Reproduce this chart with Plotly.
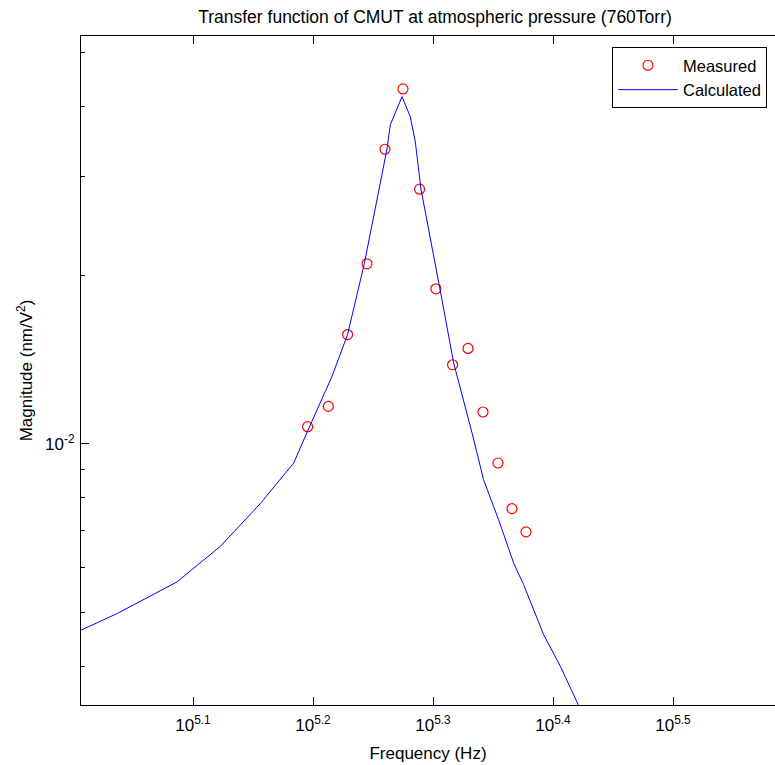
import plotly.graph_objects as go

# Measured data (Hz, nm/V^2)
meas_freq = [156860, 163220, 169360, 175790, 181970, 188360, 194450,
             200650, 207170, 213390, 219610, 226020, 232180, 238500]
meas_mag = [0.010724, 0.011658, 0.015670, 0.020966, 0.033592, 0.043047, 0.028497,
            0.018913, 0.013837, 0.014797, 0.011393, 0.009237, 0.007656, 0.006956]

# Calculated curve (Hz, nm/V^2)
calc_freq = [101550, 108820, 122090, 132670, 143230, 152730, 156680, 164370,
             169360, 174880, 182670, 183830, 188000, 191020, 192860, 194980,
             203000, 207570, 215020, 219860, 226280, 232890, 237400, 246700,
             254740, 263840, 272440]
calc_mag = [0.004642, 0.004970, 0.005662, 0.006555, 0.007813, 0.009237, 0.010476,
            0.013189, 0.015670, 0.020966, 0.033630, 0.037126, 0.041704, 0.038414,
            0.034651, 0.028497, 0.018076, 0.013952, 0.010463, 0.008623, 0.007316,
            0.006122, 0.005600, 0.004559, 0.004003, 0.003406, 0.002937]

x_tick_exp = [5.1, 5.2, 5.3, 5.4, 5.5]
y_tick_exp = [-2]
y_minor = [0.004, 0.005, 0.006, 0.007, 0.008, 0.009, 0.02, 0.03, 0.04, 0.05]

FONT = "Liberation Sans, Arial, sans-serif"

fig = go.Figure()
fig.add_trace(go.Scatter(
    x=meas_freq, y=meas_mag, mode="markers", name="Measured",
    marker=dict(symbol="circle-open", size=10, color="#ff0000",
                line=dict(width=1.2, color="#ff0000")),
))
fig.add_trace(go.Scatter(
    x=calc_freq, y=calc_mag, mode="lines", name="Calculated",
    line=dict(color="#0000ff", width=1),
))

fig.update_layout(
    width=775, height=765,
    margin=dict(l=81, r=0, t=36, b=60, autoexpand=False),
    paper_bgcolor="white", plot_bgcolor="white",
    font=dict(family=FONT, size=17, color="black"),
    title=dict(text="Transfer function of CMUT at atmospheric pressure (760Torr)",
               x=435 / 775, xref="container", xanchor="center",
               y=1 - 17 / 765, yref="container", yanchor="middle",
               font=dict(family=FONT, size=17.5, color="black")),
    showlegend=True,
    legend=dict(x=(612 - 81) / 694, xanchor="left", y=1 - (47 - 36) / 669, yanchor="top",
                bgcolor="white", bordercolor="black", borderwidth=1,
                font=dict(family=FONT, size=16.5, color="black"),
                itemwidth=60, tracegroupgap=0),
)

fig.update_xaxes(
    type="log", range=[5.00667, 5.585],
    showgrid=False, zeroline=False,
    showline=True, linecolor="black", linewidth=1, mirror="ticks",
    ticks="inside", ticklen=8, tickcolor="black", tickwidth=1,
    tickmode="array",
    tickvals=[10 ** e for e in x_tick_exp],
    ticktext=["10<sup>%g</sup>" % e for e in x_tick_exp],
    tickfont=dict(family=FONT, size=17, color="black"),
    ticklabelstandoff=5,
    title=dict(text="Frequency (Hz)", font=dict(family=FONT, size=17, color="black"), standoff=12),
    automargin=False,
)
fig.update_yaxes(
    type="log", range=[-2.4670, -1.2714],
    showgrid=False, zeroline=False,
    showline=True, linecolor="black", linewidth=1, mirror=False,
    ticks="inside", ticklen=8, tickcolor="black", tickwidth=1,
    tickmode="array",
    tickvals=[10 ** e for e in y_tick_exp],
    ticktext=["10<sup>%d</sup>" % e for e in y_tick_exp],
    tickfont=dict(family=FONT, size=17, color="black"),
    ticklabelstandoff=2,
    minor=dict(tickmode="array", tickvals=y_minor, ticks="inside", ticklen=4,
               tickcolor="black", tickwidth=1, showgrid=False),
    title=dict(text="Magnitude (nm/V<sup>2</sup>)", font=dict(family=FONT, size=17, color="black"), standoff=8),
    automargin=False,
)

fig.write_html("out.html")
